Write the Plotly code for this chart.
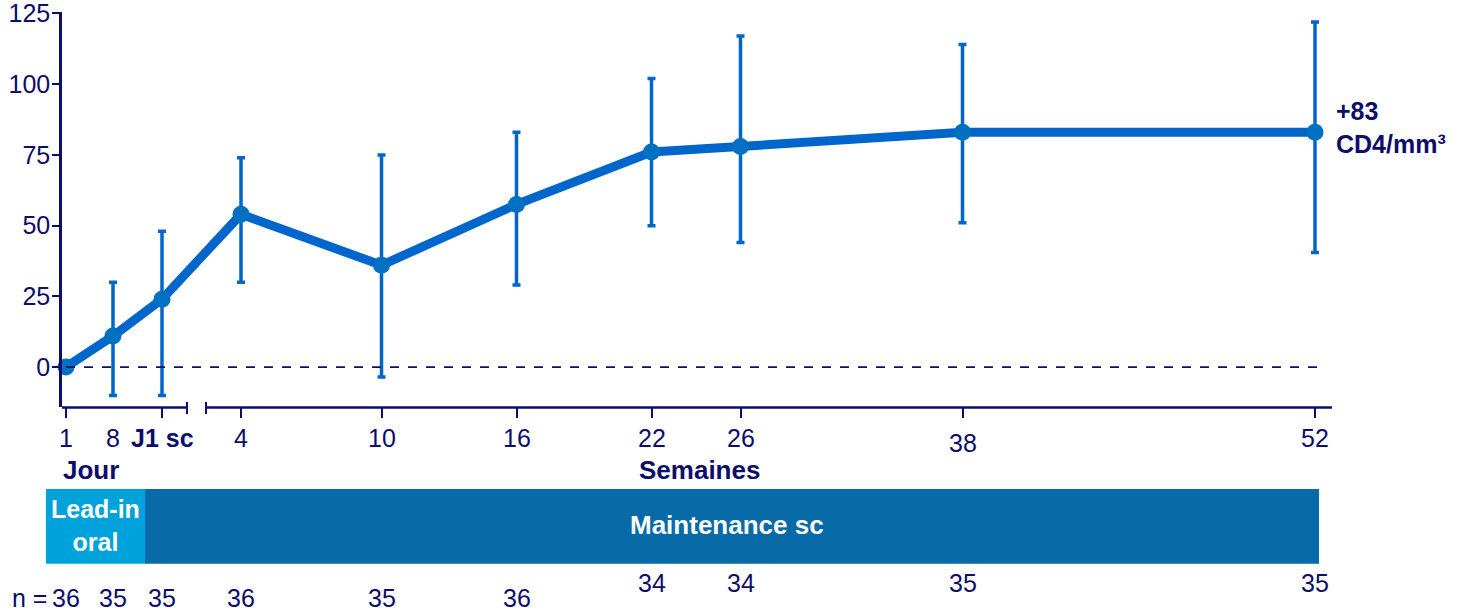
import plotly.graph_objects as go

# ---- data -------------------------------------------------------------
time_labels = ["1", "8", "J1 sc", "4", "10", "16", "22", "26", "38", "52"]
cd4_change = [0, 11, 24, 54, 36, 57.5, 76, 78, 83, 83]      # mean change, CD4/mm3
ci_upper = [0, 30, 48, 74, 75, 83, 102, 117, 114, 122]
ci_lower = [0, -10, -10, 30, -3.5, 29, 50, 44, 51, 40.5]
n_patients = [36, 35, 35, 36, 35, 36, 34, 34, 35, 35]
y_ticks = [0, 25, 50, 75, 100, 125]

# ---- layout helpers ---------------------------------------------------
# timeline slot of each visit on the (non-linear) x axis
x_slot = [0.4, 5.1, 10.0, 17.9, 31.95, 45.45, 58.95, 67.85, 90.05, 125.3]
tick_slots = [x_slot[i] for i in range(len(x_slot)) if i != 1]   # no tick at day 8

W, H = 1462, 611
L, R, B = 62, 130, 204
X_RANGE = [0, 127]
Y_RANGE = [-14.1, 125.5]
PX_PER_UNIT = (407 - 13) / (125 + 14.1)
T = 13 - (Y_RANGE[1] - 125) * PX_PER_UNIT

NAVY = "#0d0d6b"
BLUE = "#0066cc"
MARK = "#0070c0"
LIGHT = "#00a2dc"
DARK = "#086aa6"
FONT = "Liberation Sans, Arial, sans-serif"


def py(p):
    """page pixel row -> paper y"""
    return (H - B - p) / (H - T - B)


def px(p):
    """page pixel column -> paper x"""
    return (p - L) / (W - L - R)


err_plus = [u - m for u, m in zip(ci_upper, cd4_change)]
err_minus = [m - l for m, l in zip(cd4_change, ci_lower)]

fig = go.Figure()

# thick line with asymmetric error bars
fig.add_trace(go.Scatter(
    x=x_slot, y=cd4_change, mode="lines",
    line=dict(color=BLUE, width=9),
    error_y=dict(type="data", symmetric=False, array=err_plus, arrayminus=err_minus,
                 color=BLUE, thickness=3.5, width=4),
    hoverinfo="skip", showlegend=False, cliponaxis=False,
))
# point markers on top
fig.add_trace(go.Scatter(
    x=x_slot, y=cd4_change, mode="markers",
    marker=dict(color=MARK, size=17),
    showlegend=False, cliponaxis=False,
))

shapes = []
# baseline at zero
shapes.append(dict(type="line", xref="x", yref="y", x0=x_slot[0], x1=126.3, y0=0, y1=0,
                   line=dict(color=NAVY, width=1.8, dash="dash")))
# broken x axis: day segment and week segment, each with end caps
for a, b, cap_a, cap_b in [(62, 187, False, True), (206, 1332, True, False)]:
    shapes.append(dict(type="line", xref="paper", yref="paper",
                       x0=px(a), x1=px(b), y0=py(407.5), y1=py(407.5),
                       line=dict(color=NAVY, width=2.5)))
    if cap_b:
        shapes.append(dict(type="line", xref="paper", yref="paper",
                           x0=px(b), x1=px(b), y0=py(402), y1=py(414),
                           line=dict(color=NAVY, width=2)))
    if cap_a:
        shapes.append(dict(type="line", xref="paper", yref="paper",
                           x0=px(a), x1=px(a), y0=py(402), y1=py(414),
                           line=dict(color=NAVY, width=2)))
# treatment phase band
shapes.append(dict(type="rect", xref="paper", yref="paper", x0=px(46), x1=px(145),
                   y0=py(564), y1=py(489), fillcolor=LIGHT, line=dict(width=0), layer="below"))
shapes.append(dict(type="rect", xref="paper", yref="paper", x0=px(145), x1=px(1319),
                   y0=py(564), y1=py(489), fillcolor=DARK, line=dict(width=0), layer="below"))

annotations = []


def text(x, y, s, size=25, color=NAVY, xref="x", xanchor="center", align="center"):
    annotations.append(dict(x=x, y=y, xref=xref, yref="paper", text=s, showarrow=False,
                            font=dict(family=FONT, size=size, color=color),
                            xanchor=xanchor, yanchor="middle", align=align))


# x tick labels
for i, lab in enumerate(time_labels):
    s = "<b>%s</b>" % lab if lab == "J1 sc" else lab
    text(x_slot[i], py(443 if lab == "38" else 438), s)

text(px(61), py(470), "<b>Jour</b>", size=26, xref="paper", xanchor="left")
text(px(700), py(470), "<b>Semaines</b>", size=26, xref="paper")

text(px(95), py(526), "<b>Lead-in<br>oral</b>", size=25, color="white", xref="paper")
text(px(727), py(525), "<b>Maintenance sc</b>", size=26, color="white", xref="paper")

# patient counts
text(px(29), py(598), "n =", xref="paper")
for i, n in enumerate(n_patients):
    text(x_slot[i], py(583 if i >= 6 else 598), str(n))

# end-of-study change
text(px(1334), py(127), "<b>+%d<br>CD4/mm³</b>" % cd4_change[-1], size=25,
     xref="paper", xanchor="left", align="left")

fig.update_layout(
    width=W, height=H,
    margin=dict(l=L, r=R, t=T, b=B),
    paper_bgcolor="white", plot_bgcolor="white",
    font=dict(family=FONT, color=NAVY, size=25),
    shapes=shapes, annotations=annotations,
    xaxis=dict(range=X_RANGE, showgrid=False, zeroline=False, showline=False,
               automargin=False,
               tickmode="array", tickvals=tick_slots, showticklabels=False,
               ticks="outside", ticklen=10, tickwidth=2, tickcolor=NAVY),
    yaxis=dict(range=Y_RANGE, showgrid=False, zeroline=False, showline=True,
               automargin=False, ticklabeloverflow="allow", ticklabelstandoff=-3,
               linecolor=NAVY, linewidth=2.5,
               tickmode="array", tickvals=y_ticks,
               ticks="outside", ticklen=7, tickwidth=2, tickcolor=NAVY,
               tickfont=dict(family=FONT, size=25, color=NAVY)),
    showlegend=False,
)

fig.write_html("out.html")
